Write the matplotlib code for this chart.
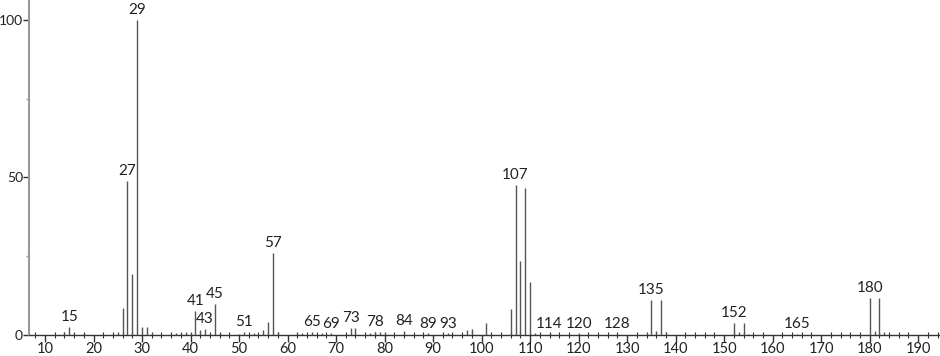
import matplotlib
matplotlib.use("Agg")
import matplotlib.pyplot as plt
from matplotlib.ticker import MultipleLocator

mz = [14, 15, 16, 18, 25, 26, 27, 28, 29, 30, 31, 32, 37, 38, 39, 40, 41, 42, 43, 44, 45, 46,
      50, 51, 53, 55, 56, 57, 58, 62, 63, 65, 67, 69, 73, 74, 77, 78, 79, 80, 84, 89, 93,
      97, 98, 101, 106, 107, 108, 109, 110, 111, 114, 120, 122, 128, 134, 135, 136, 137, 138,
      152, 153, 154, 155, 165, 180, 181, 182, 183]
intensity = [1.0, 2.5, 0.4, 0.5, 1.0, 8.6, 49.0, 19.4, 100.0, 2.5, 2.5, 0.5, 0.5, 0.6, 0.8, 0.8,
             7.6, 1.5, 2.0, 0.5, 9.8, 0.5,
             0.3, 1.0, 0.5, 1.5, 4.1, 26.0, 1.0, 0.5, 0.5, 1.0, 0.5, 0.5, 2.2, 2.2, 0.5, 1.0,
             1.0, 1.0, 1.3, 0.5, 0.5,
             1.5, 2.0, 3.8, 8.3, 47.6, 23.5, 46.7, 16.8, 0.5, 0.5, 0.5, 0.3, 0.3, 0.5, 11.2,
             1.2, 11.2, 0.8,
             3.9, 0.8, 3.8, 0.3, 0.3, 11.7, 1.2, 11.7, 0.8]
labeled = [15, 27, 29, 41, 43, 45, 51, 57, 65, 69, 73, 78, 84, 89, 93, 107, 114, 120, 128,
           135, 152, 165, 180]

plt.rcParams["font.family"] = ["Lato", "DejaVu Sans"]

fig = plt.figure(figsize=(9.40, 3.56), dpi=100)
ax = fig.add_axes([29/940, 21/356, 911/940, 335/356])
ax.vlines(mz, 0, intensity, colors="#555555", linewidth=1.0)

lookup = dict(zip(mz, intensity))
for m in labeled:
    ax.annotate(str(m), xy=(m, lookup[m]), xytext=(0, 2), textcoords="offset points",
                ha="center", va="bottom", fontsize=11, color="#222222")

ax.set_xlim(6.7, 194.5)
ax.set_ylim(0, 106.3)
for s in ["top", "right"]:
    ax.spines[s].set_visible(False)
ax.spines["left"].set_color("#999999")
ax.spines["left"].set_linewidth(1.5)
ax.spines["bottom"].set_color("#333333")
ax.spines["bottom"].set_linewidth(1.0)

ax.xaxis.set_major_locator(MultipleLocator(10))
ax.xaxis.set_minor_locator(MultipleLocator(2))
ax.yaxis.set_major_locator(MultipleLocator(50))
ax.yaxis.set_minor_locator(MultipleLocator(25))
ax.tick_params(axis="x", which="major", direction="out", length=5, width=1,
               labelsize=10.5, pad=0, colors="#333333", labelcolor="#222222")
ax.tick_params(axis="x", which="minor", direction="inout", length=4, width=0.8,
               colors="#333333")
ax.tick_params(axis="y", which="major", direction="out", length=4, width=1,
               labelsize=10, pad=0.3, colors="#333333", labelcolor="#222222")
ax.tick_params(axis="y", which="minor", direction="out", length=2, width=1,
               colors="#999999")
ax.set_xticks(range(10, 191, 10))
fig.savefig("out.png", dpi=100)
